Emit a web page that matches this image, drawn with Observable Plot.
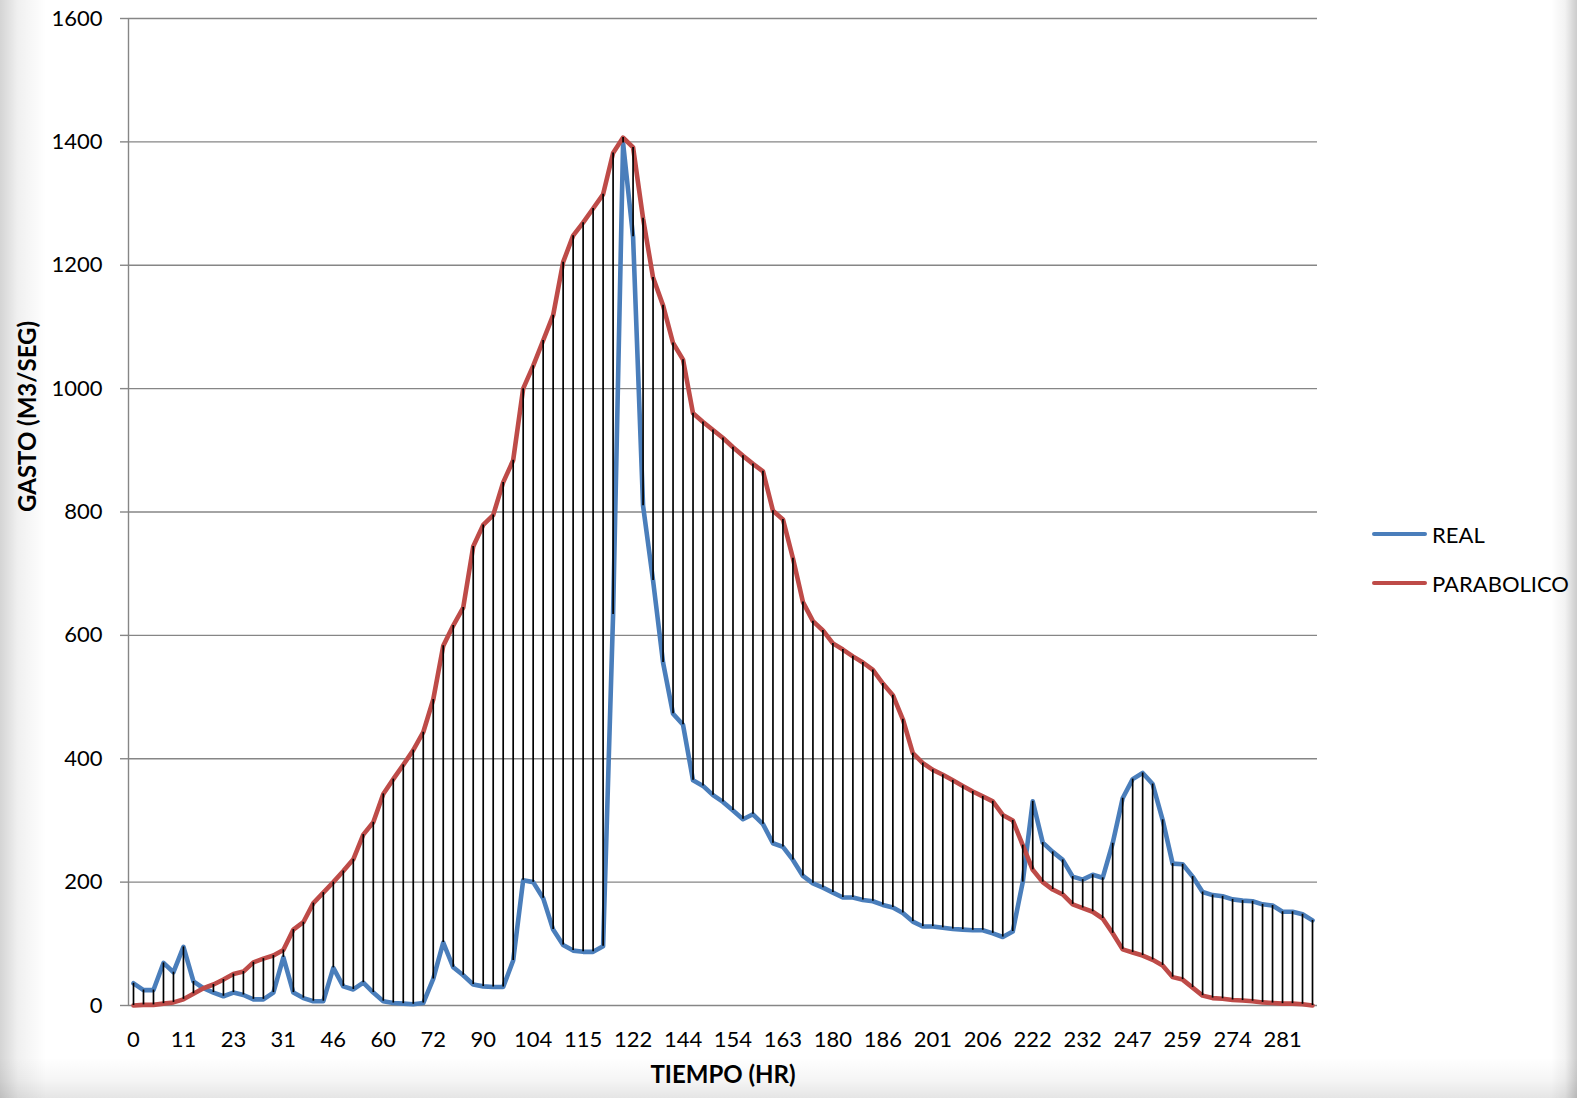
<!DOCTYPE html>
<html>
<head>
<meta charset="utf-8">
<script src="https://cdn.jsdelivr.net/npm/d3@7"></script>
<script src="https://cdn.jsdelivr.net/npm/@observablehq/plot@0.6"></script>
<style>
  html, body { margin: 0; padding: 0; background: #fff; }
  #wrap {
    position: relative; width: 1577px; height: 1098px; overflow: hidden;
    background:
      linear-gradient(to right, rgba(0,0,0,0.17) 0px, rgba(0,0,0,0.06) 18px, rgba(0,0,0,0) 46px),
      linear-gradient(to left, rgba(0,0,0,0.20) 0px, rgba(0,0,0,0.05) 12px, rgba(0,0,0,0) 26px),
      linear-gradient(to top, rgba(0,0,0,0.10) 0px, rgba(0,0,0,0.04) 18px, rgba(0,0,0,0) 40px),
      #fff;
    font-family: Lato, "Open Sans", sans-serif;
  }
  #wrap svg { position: absolute; left: 0; top: 0; background: transparent; }
  .legend { position: absolute; left: 1372px; font-size: 22px; color: #000; }
  .legend .item { position: absolute; left: 0; display: flex; align-items: center; white-space: nowrap; height: 30px; }
  .legend .sw { width: 55px; height: 4.5px; border-radius: 2.5px; margin-right: 5px; }
</style>
</head>
<body>
<div id="wrap"></div>
<script>
// Category tick labels (every 5th category of TIEMPO (HR))
const tickLabels = ["0","11","23","31","46","60","72","90","104","115","122","144","154","163","180","186","201","206","222","232","247","259","274","281"];

// REAL series (GASTO m3/seg), one value per category
const real = [36,25,25,69,54,95,39,28,21,15,21,17,10,10,21,78,21,12,7,7,
  61,31,26,37,21,7,4,3,2,4,43,102,62,49,34,31,30,30,73,203,
  200,174,123,98,89,87,87,96,634,1398,1246,810,689,556,473,455,365,356,341,330,
  316,302,310,294,263,257,236,210,198,191,183,175,175,171,169,163,159,150,136,128,
  128,126,124,123,122,122,117,111,120,200,331,264,249,236,209,204,212,207,263,336,
  367,377,359,301,230,229,209,184,179,177,172,170,169,164,162,152,152,148,138];

// PARABOLICO series
const parabolico = [0,1,1,3,5,10,19,28,34,42,51,55,70,76,81,90,123,135,166,183,
  200,218,237,277,297,343,367,390,414,443,496,583,616,645,744,779,795,848,884,1000,
  1037,1078,1119,1205,1248,1269,1292,1315,1382,1407,1391,1276,1180,1135,1074,1047,960,946,933,920,
  905,891,878,866,802,788,725,654,623,608,587,577,566,556,544,522,503,464,409,393,
  382,374,365,356,347,339,331,309,300,260,220,200,188,180,164,158,152,141,117,91,
  86,81,74,65,46,42,29,16,12,11,9,8,7,5,4,3,3,2,0];

const seriesNames = ["REAL", "PARABOLICO"];
const seriesColors = ["#4A7EBB", "#BE4B48"];
const yTicks = [0,200,400,600,800,1000,1200,1400,1600];

const n = real.length;
const rows = real.map((r, i) => ({i, real: r, parab: parabolico[i]}));
const long = [
  ...rows.map(d => ({i: d.i, v: d.real, s: "REAL"})),
  ...rows.map(d => ({i: d.i, v: d.parab, s: "PARABOLICO"}))
];
const tickIdx = tickLabels.map((_, k) => k * 5);

const grid = "#868686";
const chart = Plot.plot({
  width: 1577,
  height: 1098,
  marginLeft: 128,
  marginRight: 260,
  marginTop: 18,
  marginBottom: 93,
  style: {fontFamily: "Lato, 'Open Sans', sans-serif", fontSize: "22px", color: "#000", background: "transparent", overflow: "visible"},
  x: {domain: [-0.5, n - 0.5]},
  y: {domain: [0, 1600]},
  color: {domain: seriesNames, range: seriesColors},
  marks: [
    Plot.gridY(yTicks, {stroke: grid, strokeOpacity: 1, strokeWidth: 1.4}),
    Plot.axisY(yTicks, {tickSize: 8, tickPadding: 18, stroke: grid, strokeWidth: 1.4, fill: "#000", label: null, fontSize: 22, tickFormat: d => String(d)}),
    Plot.axisX(tickIdx, {tickSize: 0, tickPadding: 26, tickFormat: i => tickLabels[i / 5], fill: "#000", label: null, fontSize: 22}),
    Plot.ruleX([-0.5], {stroke: grid, strokeWidth: 1.4}),
    Plot.line(long, {x: "i", y: "v", z: "s", stroke: "s", strokeWidth: 4.6, strokeLinejoin: "round", strokeLinecap: "round"}),
    Plot.ruleX(rows, {x: "i", y1: "real", y2: "parab", stroke: "#000", strokeWidth: 1.7}),
    Plot.text(["TIEMPO (HR)"], {frameAnchor: "bottom", dy: 77, fontWeight: "bold", fontSize: 24, fill: "#000"}),
    Plot.text(["GASTO (M3/SEG)"], {frameAnchor: "left", dx: -100, rotate: -90, fontWeight: "bold", fontSize: 24, fill: "#000"})
  ]
});

const wrap = document.getElementById("wrap");
wrap.appendChild(chart);

// Legend
const legend = document.createElement("div");
legend.className = "legend";
legend.style.top = "0px";
seriesNames.forEach((name, k) => {
  const item = document.createElement("div");
  item.className = "item";
  item.style.top = (519 + k * 49) + "px";
  const sw = document.createElement("span");
  sw.className = "sw";
  sw.style.background = seriesColors[k];
  const tx = document.createElement("span");
  tx.textContent = name;
  item.appendChild(sw);
  item.appendChild(tx);
  legend.appendChild(item);
});
wrap.appendChild(legend);
</script>
</body>
</html>
